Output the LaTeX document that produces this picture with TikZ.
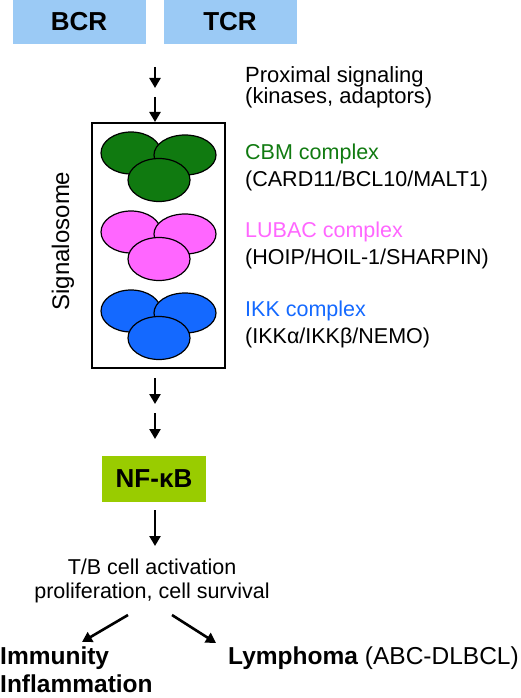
\documentclass[tikz,border=0pt]{standalone}
\usepackage{fontspec}
\setmainfont{Liberation Sans}
\usetikzlibrary{arrows.meta,positioning}

\definecolor{rcpblue}{RGB}{155,202,245}
\definecolor{cbmgreen}{RGB}{16,122,16}
\definecolor{lubacpink}{RGB}{255,102,255}
\definecolor{ikkblue}{RGB}{20,105,255}
\definecolor{nfgreen}{RGB}{153,204,0}

\tikzset{
  sig/.style={-{Triangle[length=10pt,width=11pt]}, line width=2.6pt},
  rcpbox/.style={fill=rcpblue, minimum width=133pt, minimum height=44pt, inner sep=0pt,
                 font=\fontsize{26}{30}\selectfont\bfseries},
  nfbox/.style={fill=nfgreen, minimum width=104pt, minimum height=46pt, inner sep=0pt,
                font=\fontsize{26}{30}\selectfont\bfseries},
  lbl/.style={anchor=north west, inner sep=0pt, align=left},
  blob/.style={draw=black, line width=1.2pt}
}

\begin{document}
\begin{tikzpicture}[x=1pt, y=-1pt]
    \useasboundingbox (0,0) rectangle (520,698);

    % Rezeptoren BCR und TCR
    \node[rcpbox] (bcr) at (79,22) {BCR};
    \node[rcpbox] (tcr) at (230,22) {TCR};

    % proximale Signale
    \coordinate (p1) at (155,67);
    \coordinate (p2) at (155,88);
    \coordinate (p3) at (155,97);
    \coordinate (p4) at (155,122);
    \draw[sig] (p1) -- (p2);
    \draw[sig] (p3) -- (p4);
    \node[lbl, font=\fontsize{22}{20.5}\selectfont] (prox) at (245,66)
        {Proximal signaling\\(kinases, adaptors)};

    % Signalosom
    \node[draw, line width=2pt, minimum width=133pt, minimum height=245pt, inner sep=0pt]
        (sbox) at (158.5,245.5) {};
    \node[rotate=90, anchor=base, font=\fontsize{24}{28}\selectfont] (sname) at (69,241)
        {Signalosome};

    % drei Komplexe aus je drei Untereinheiten
    \foreach \dy/\col in {0/cbmgreen, 79/lubacpink, 158/ikkblue} {
        \draw[blob, fill=\col] (131,153+\dy) ellipse [x radius=30pt, y radius=21pt];
        \draw[blob, fill=\col] (185,155+\dy) ellipse [x radius=31pt, y radius=20pt];
        \draw[blob, fill=\col] (159,180+\dy) ellipse [x radius=31pt, y radius=21.5pt];
    }

    \node[lbl, font=\fontsize{21.5}{27}\selectfont] (cbm) at (245,144)
        {\textcolor{cbmgreen}{CBM complex}\\(CARD11/BCL10/MALT1)};
    \node[lbl, font=\fontsize{21.5}{27}\selectfont] (lubac) at (245,222)
        {\textcolor{lubacpink}{LUBAC complex}\\(HOIP/HOIL-1/SHARPIN)};
    \node[lbl, font=\fontsize{21.5}{27}\selectfont] (ikk) at (245,301)
        {\textcolor{ikkblue}{IKK complex}\\(IKKα/IKKβ/NEMO)};

    % zu NF-kB
    \coordinate (q1) at (155,378);
    \coordinate (q2) at (155,404);
    \coordinate (q3) at (155,413);
    \coordinate (q4) at (155,439);
    \draw[sig] (q1) -- (q2);
    \draw[sig] (q3) -- (q4);
    \node[nfbox] (nfkb) at (154,479) {NF-κB};

    % Folgen
    \node[anchor=north, inner sep=0pt, align=center, font=\fontsize{21.5}{24}\selectfont]
        (act) at (152,559) {T/B cell activation\\proliferation, cell survival};
    \coordinate (r1) at (155,510);
    \coordinate (r2) at (155,546);
    \draw[sig] (r1) -- (r2);

    \coordinate (s1) at (128,615);
    \coordinate (s2) at (82,642);
    \coordinate (s3) at (172,615);
    \coordinate (s4) at (216,643);
    \draw[sig] (s1) -- (s2);
    \draw[sig] (s3) -- (s4);

    \node[lbl, font=\fontsize{24.5}{28}\selectfont\bfseries] (immun) at (0,647)
        {Immunity\\Inflammation};
    \node[lbl, font=\fontsize{24.5}{28}\selectfont] (lymph) at (228,647)
        {\textbf{Lymphoma} (ABC-DLBCL)};
\end{tikzpicture}
\end{document}
